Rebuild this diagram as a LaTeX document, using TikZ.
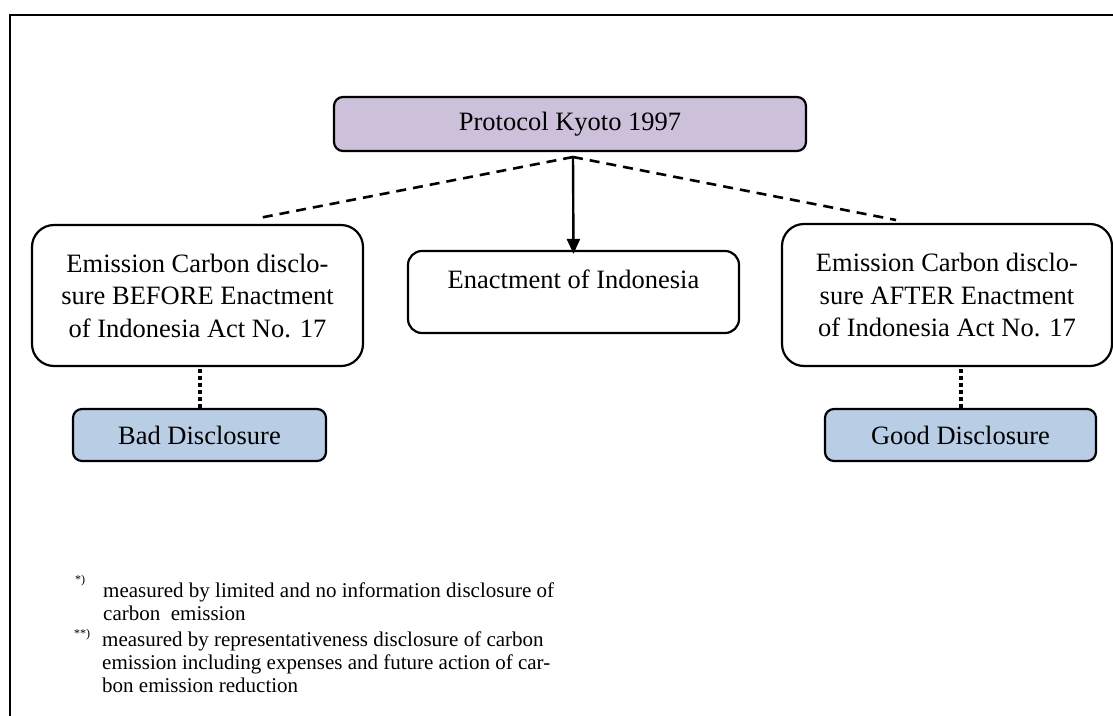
\documentclass[tikz,border=0pt]{standalone}
\usepackage{fontspec}
\setmainfont{Liberation Serif}
\usetikzlibrary{arrows.meta}

\definecolor{kyotofill}{HTML}{CCC0DA}
\definecolor{discfill}{HTML}{B9CDE5}

\tikzset{
	box/.style={draw, line width=2.2pt, rounded corners=#1, inner sep=0pt, align=center,
		font=\fontsize{26.5}{32.5}\selectfont},
	box/.default=20pt,
	dashlink/.style={line width=2.6pt, dash pattern=on 10pt off 7pt},
	dotlink/.style={line width=4pt, dash pattern=on 3.5pt off 3.5pt},
	downarrow/.style={line width=2.4pt, -{Triangle[width=13pt,length=15pt]}},
	note/.style={inner sep=0pt, align=left, font=\fontsize{21}{23}\selectfont},
	notemark/.style={inner sep=0pt, font=\fontsize{12}{12}\selectfont}
}

\begin{document}
\begin{tikzpicture}[x=1pt, y=-1pt]
				\useasboundingbox (0, 0) rectangle (1113, 715);
\draw[line width=2.4pt] (10, 760) -- (10, 15) -- (1160, 15);

\node[box=9pt, fill=kyotofill, minimum width=472pt, minimum height=54pt] (kyoto) at (570, 124) {Protocol Kyoto 1997};

\node[box=14pt, minimum width=331pt, minimum height=82pt, text height=19pt, text depth=27pt] (enact) at (573.5, 292) {Enactment of Indonesia};
\node[box=22pt, minimum width=331pt, minimum height=141pt] (before) at (197.5, 295.5) {Emission Carbon disclo-\\sure BEFORE Enactment\\of Indonesia Act No. 17};
\node[box=22pt, minimum width=330pt, minimum height=142pt] (after) at (947, 295) {Emission Carbon disclo-\\sure AFTER Enactment\\of Indonesia Act No. 17};

\node[box=9pt, fill=discfill, minimum width=253pt, minimum height=52pt] (bad) at (199.5, 435) {Bad Disclosure};
\node[box=9pt, fill=discfill, minimum width=271pt, minimum height=52pt] (good) at (960.5, 435) {Good Disclosure};

\node[notemark, anchor=base west] (mark1) at (75, 583) {*)};
\node[note, anchor=north west] (note1) at (103, 583) {measured by limited and no information disclosure of\\carbon\ \ emission};
\node[notemark, anchor=base west] (mark2) at (74, 637) {**)};
\node[note, anchor=north west] (note2) at (102, 632) {measured by representativeness disclosure of carbon\\emission including expenses and future action of car-\\bon emission reduction};

\coordinate (split) at (573, 157);
\coordinate (lend) at (259, 218);
\coordinate (rend) at (896, 220);

\draw[downarrow] (split) -- ([yshift=-4pt]enact.north);
\draw[dashlink] (split) -- (lend);
\draw[dashlink] (split) -- (rend);

\draw[dotlink] (bad.north) -- (bad.north |- before.south);
\draw[dotlink] (good.north) -- (good.north |- after.south);
			\end{tikzpicture}
\end{document}
